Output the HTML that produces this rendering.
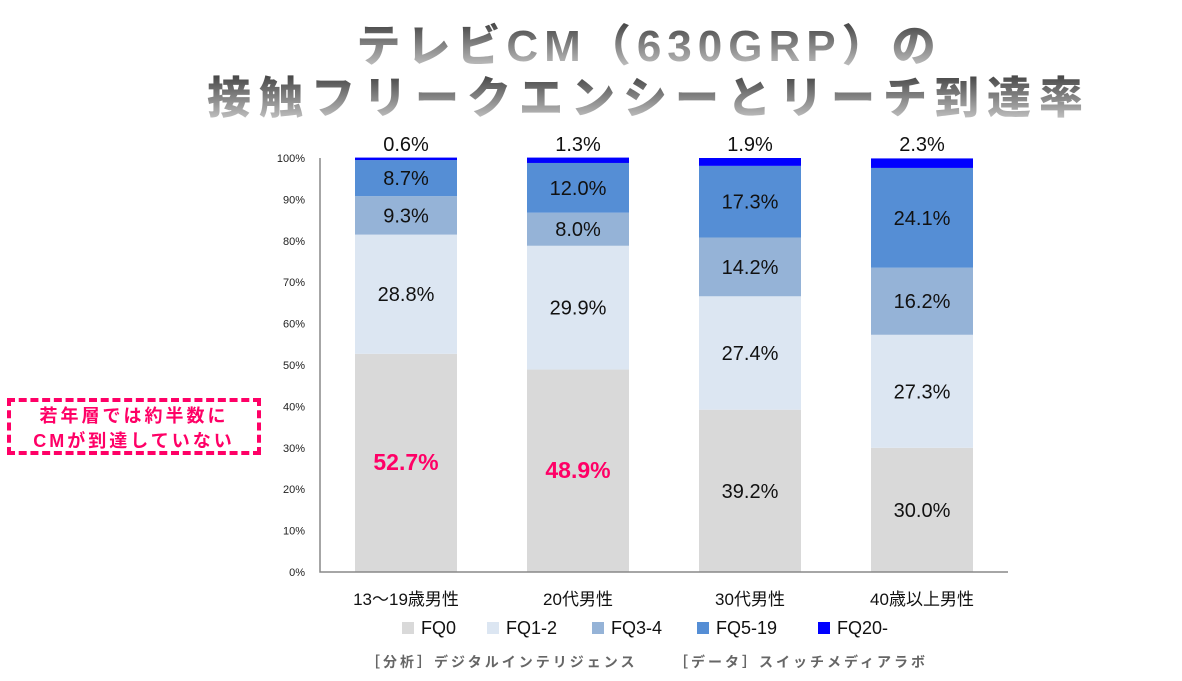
<!DOCTYPE html>
<html><head><meta charset="utf-8">
<style>
body{margin:0;width:1182px;height:681px;background:#fff;overflow:hidden;font-family:"Liberation Sans","Noto Sans CJK JP",sans-serif;position:relative}
.t{position:absolute;width:1182px;text-align:center;font-weight:900;font-family:"Liberation Sans","Noto Sans CJK JP",sans-serif;background:linear-gradient(#333 10%,#ccc 95%);-webkit-background-clip:text;background-clip:text;color:transparent;white-space:nowrap}
.note{position:absolute;left:7px;top:398px;width:254px;height:57px;border:4px dashed #ff0066;color:#ff0066;font-weight:bold;font-size:18px;letter-spacing:3px;text-align:center;line-height:25px;padding-top:2px;box-sizing:border-box}
.foot{position:absolute;top:652px;font-size:14px;color:#666;letter-spacing:3px;font-weight:bold}
</style></head><body>
<div class="t" style="top:10px;font-size:44px;letter-spacing:6px;left:58px">テレビCM（630GRP）の</div>
<div class="t" style="top:62px;font-size:44px;letter-spacing:8px;left:58px">接触フリークエンシーとリーチ到達率</div>
<div class="note">若年層では約半数に<br>CMが到達していない</div>
<svg id="c" width="1182" height="681" style="position:absolute;left:0;top:0"></svg>
<div class="foot" style="left:366px">［分析］デジタルインテリジェンス</div>
<div class="foot" style="left:674px">［データ］スイッチメディアラボ</div>
<script>
const categories=["13〜19歳男性","20代男性","30代男性","40歳以上男性"];
const seriesNames=["FQ0","FQ1-2","FQ3-4","FQ5-19","FQ20-"];
const fq0=[52.7,48.9,39.2,30.0];
const fq12=[28.8,29.9,27.4,27.3];
const fq34=[9.3,8.0,14.2,16.2];
const fq519=[8.7,12.0,17.3,24.1];
const fq20=[0.6,1.3,1.9,2.3];
const yTicks=[0,10,20,30,40,50,60,70,80,90,100];
const colors=["#d9d9d9","#dce6f2","#95b3d7","#558ed5","#0000ff"];
const svg=document.getElementById('c');const NS="http://www.w3.org/2000/svg";
const x0=320,x1=1008,yb=572,yt=158;
const y=v=>yb-(v/100)*(yb-yt);
const bw=(x1-x0)/categories.length;const barW=102;
const xc=i=>x0+bw*(i+0.5);
function mk(t,a,txt){const e=document.createElementNS(NS,t);for(const k in a)e.setAttribute(k,a[k]);if(txt!=null)e.textContent=txt;svg.appendChild(e);return e;}
yTicks.forEach(v=>{const e=mk('text',{x:305,y:y(v)+4,'text-anchor':'end','font-size':11,fill:'#222'},v+'%');

});
const series=[fq0,fq12,fq34,fq519,fq20];
categories.forEach((c,i)=>{let cum=0;
series.forEach((s,k)=>{const v=s[i];const r=mk('rect',{x:xc(i)-barW/2,y:y(cum+v),width:barW,height:y(cum)-y(cum+v),fill:colors[k]});


if(k<4){const pink=(k==0&&i<2);const t=mk('text',{x:xc(i),y:(y(cum)+y(cum+v))/2+7,'text-anchor':'middle','font-size':pink?23:20,'font-weight':pink?'bold':'normal',fill:pink?'#ff0066':'#111'},v.toFixed(1)+'%');

}
cum+=v;});
const t=mk('text',{x:xc(i),y:151,'text-anchor':'middle','font-size':20,fill:'#111'},fq20[i].toFixed(1)+'%');


const l=mk('text',{x:xc(i),y:605,'text-anchor':'middle','font-size':17,fill:'#111'},c);

});
const ax=mk('path',{d:`M${x0} ${yt}V${yb}H${x1}`,stroke:'#888','stroke-width':1.5,fill:'none'});


const lx=[402,487,592,697,818];
seriesNames.forEach((n,k)=>{const r=mk('rect',{x:lx[k],y:622,width:12,height:12,fill:colors[k]});


const t=mk('text',{x:lx[k]+19,y:634,'font-size':18,fill:'#111'},n);

});
</script>
</body></html>
